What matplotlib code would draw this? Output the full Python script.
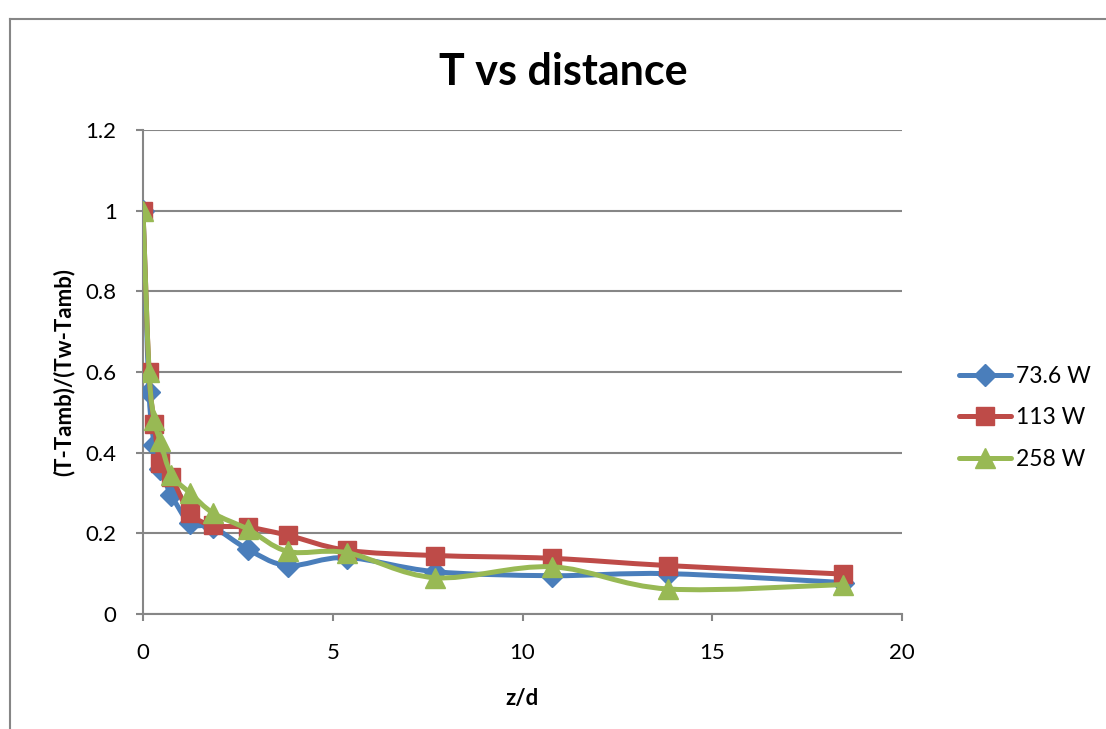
import matplotlib.pyplot as plt
import numpy as np
from matplotlib.path import Path
from matplotlib.patches import PathPatch
from matplotlib.lines import Line2D

plt.rcParams['font.family'] = ['Lato', 'DejaVu Sans']

# --- data ---
z_d = [0, 0.16, 0.3, 0.45, 0.75, 1.24, 1.85, 2.77, 3.82, 5.37, 7.69, 10.77, 13.84, 18.45]
t_736 = [1.0, 0.55, 0.42, 0.36, 0.295, 0.225, 0.215, 0.16, 0.12, 0.14, 0.105, 0.095, 0.1, 0.078]
t_113 = [1.0, 0.6, 0.47, 0.375, 0.34, 0.25, 0.22, 0.215, 0.195, 0.158, 0.145, 0.138, 0.12, 0.099]
t_258 = [1.0, 0.6, 0.48, 0.43, 0.345, 0.3, 0.25, 0.21, 0.155, 0.152, 0.09, 0.117, 0.062, 0.073]

series_labels = ["73.6 W", "113 W", "258 W"]
x_ticks = [0, 5, 10, 15, 20]
y_ticks = [0, 0.2, 0.4, 0.6, 0.8, 1, 1.2]


def smooth_path(x, y):
    # Excel-like smoothed line: cubic bezier through every point
    pts = np.column_stack([x, y]).astype(float)
    n = len(pts)
    verts = [pts[0]]
    codes = [Path.MOVETO]
    for i in range(n - 1):
        p0 = pts[i - 1] if i > 0 else pts[i]
        p1 = pts[i]
        p2 = pts[i + 1]
        p3 = pts[i + 2] if i + 2 < n else pts[i + 1]
        c1 = p1 + (p2 - p0) / 6.0
        c2 = p2 - (p3 - p1) / 6.0
        verts += [c1, c2, p2]
        codes += [Path.CURVE4] * 3
    return Path(verts, codes)


fig = plt.figure(figsize=(11.06, 7.29), dpi=100)
ax = fig.add_axes([143 / 1106, 115 / 729, 759 / 1106, 484 / 729])

grid_col = "#868686"

# outer chart border (only top and left visible)
fig.add_artist(Line2D([10 / 1106, 1.0], [1 - 19 / 729, 1 - 19 / 729],
                      transform=fig.transFigure, color=grid_col, lw=1.5))
fig.add_artist(Line2D([10 / 1106, 10 / 1106], [1 - 19 / 729, 0.0],
                      transform=fig.transFigure, color=grid_col, lw=1.5))

colors = ["#4A7EBB", "#BE4B48", "#98B954"]
markers = ["D", "s", "^"]
msizes = [11, 13, 15]

handles = []
for yv, col, mk, ms, lab in zip([t_736, t_113, t_258], colors, markers, msizes, series_labels):
    patch = PathPatch(smooth_path(z_d, yv), facecolor="none", edgecolor=col,
                      lw=3.6, capstyle="round", joinstyle="round", zorder=3)
    ax.add_patch(patch)
    ax.plot(z_d, yv, linestyle="none", marker=mk, markersize=ms,
            color=col, markeredgecolor=col, zorder=3)
    handles.append(Line2D([], [], color=col, lw=3.6, marker=mk, markersize=ms,
                          markeredgecolor=col, solid_capstyle="round", label=lab))

ax.set_xlim(0, 20)
ax.set_ylim(0, 1.2)
ax.set_xticks(x_ticks)
ax.set_yticks(y_ticks)
ax.set_xticklabels([str(v) for v in x_ticks])
ax.set_yticklabels(["0", "0.2", "0.4", "0.6", "0.8", "1", "1.2"])

ax.grid(axis="y", color=grid_col, lw=1.5, zorder=0)
ax.set_axisbelow(True)
for s in ["top", "right"]:
    ax.spines[s].set_visible(False)
for s in ["left", "bottom"]:
    ax.spines[s].set_color(grid_col)
    ax.spines[s].set_linewidth(1.5)
ax.tick_params(axis="both", colors=grid_col, length=5, width=1.5,
               labelsize=16, labelcolor="black")
ax.tick_params(axis="y", pad=14)
ax.tick_params(axis="x", pad=16)

ax.set_xlabel("z/d", fontsize=16, fontweight="bold", labelpad=18)
ax.set_ylabel("(T-Tamb)/(Tw-Tamb)", fontsize=16, fontweight="bold", labelpad=8)

fig.text(563 / 1106, 1 - 72 / 729, "T vs distance", fontsize=31, fontweight="bold",
         ha="center", va="center")

fig.legend(handles=handles, loc="center left", bbox_to_anchor=(938 / 1106, 1 - 418 / 729),
           frameon=False, fontsize=16.5, numpoints=1, handlelength=2.3,
           handletextpad=0.2, labelspacing=0.9)

fig.savefig("out.png", dpi=100)
